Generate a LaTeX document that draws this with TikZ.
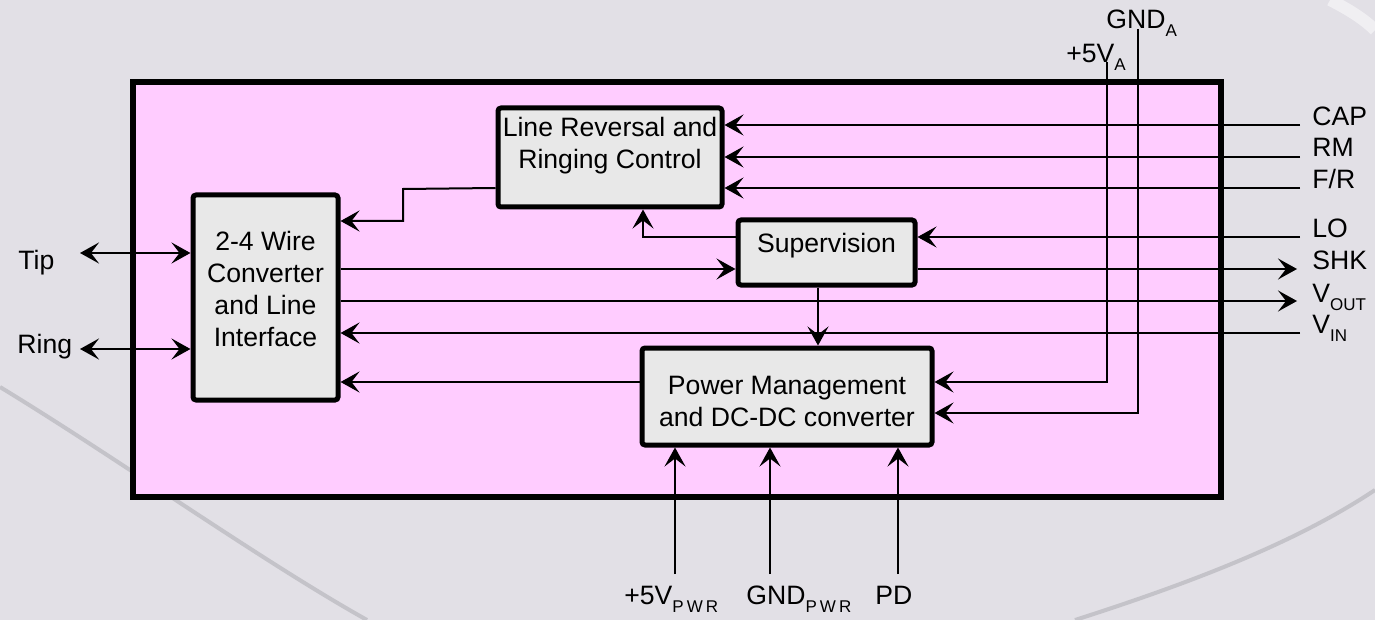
\documentclass[tikz,border=0pt]{standalone}
\usepackage{fontspec}
\setmainfont{Liberation Sans}
\usetikzlibrary{arrows.meta}
\definecolor{bggray}{HTML}{E2E0E6}
\definecolor{swirl}{HTML}{C4C3C9}
\definecolor{chippink}{HTML}{FFCCFF}
\definecolor{boxgray}{HTML}{E8E8E8}
\newcommand\lowsub[1]{\raisebox{-4pt}{\fontsize{8.5}{9}\selectfont #1}}
\newcommand\lowsubsp[1]{\raisebox{-4pt}{\fontsize{8.5}{9}\selectfont\addfontfeatures{LetterSpace=18}#1}}
\begin{document}
\begin{tikzpicture}[x=0.5pt,y=-0.5pt,
  font=\fontsize{13.3}{16}\selectfont,
  blk/.style={draw, line width=2.5pt, fill=boxgray, rounded corners=1.5pt,
    inner sep=0pt},
  txt/.style={align=center, inner sep=0pt},
  frame/.style={draw, line width=3pt, fill=chippink, inner sep=0pt},
  wire/.style={line width=1pt},
  tip/.tip={Stealth[length=9.5pt,width=10.5pt,inset=4pt]},
  arr/.style={wire, -tip},
  darr/.style={wire, tip-tip},
  lbl/.style={inner sep=0pt, anchor=base west}]

\useasboundingbox (0,0) rectangle (1375,620);
% background
\fill[bggray] (0,0) rectangle (1375,620);
\begin{scope}
\clip (0,0) rectangle (1375,620);
\draw[swirl, line width=2pt] (0,387) .. controls (120,460) and (260,560) .. (367,620);
\draw[swirl, line width=2pt] (1075,620) .. controls (1200,580) and (1300,540) .. (1375,490);
\draw[white, opacity=0.5, line width=6pt] (1330,0) .. controls (1350,10) and (1365,20) .. (1375,30);
\end{scope}

% chip outline
\node[frame, minimum width=544pt, minimum height=207.5pt] (chip) at (677,289.5) {};

% pin coordinates
\coordinate (capR) at (1300,125);
\coordinate (rmR)  at (1300,157);
\coordinate (frR)  at (1300,188);
\coordinate (loR)  at (1300,237);
\coordinate (shkR) at (1297,269);
\coordinate (voutR) at (1297,301);
\coordinate (vinR) at (1300,333);
\coordinate (tipL) at (80,253);
\coordinate (ringL) at (80,349);
\coordinate (v5aT) at (1107,62);
\coordinate (v5aB) at (1107,382);
\coordinate (gndaT) at (1138,29);
\coordinate (gndaB) at (1138,413);
\coordinate (v5pB) at (675,574);
\coordinate (gndpB) at (770,574);
\coordinate (pdB) at (898,574);

% blocks
\node[blk, minimum width=72.5pt, minimum height=102.5pt] (wire) at (265.5,297.5) {};
\node[txt] (wiretxt) at ([yshift=4.25pt]wire.center) {2-4 Wire\\Converter\\and Line\\Interface};
\node[blk, minimum width=112pt, minimum height=49.5pt] (lrc) at (610,157.5) {};
\node[txt] (lrctxt) at ([yshift=6pt]lrc.center) {Line Reversal and\\Ringing Control};
\node[blk, minimum width=88.5pt, minimum height=32.5pt] (sup) at (826.5,252.5) {};
\node[txt] (suptxt) at ([yshift=3.5pt]sup.center) {Supervision};
\node[blk, minimum width=145pt, minimum height=48.5pt] (pm) at (787,396.5) {};
\node[txt] (pmtxt) at ([yshift=-2.25pt]pm.center) {Power Management\\and DC-DC converter};

% connectors
\draw[arr] (capR) -- (capR -| lrc.east);
\draw[arr] (rmR) -- (rmR -| lrc.east);
\draw[arr] (frR) -- (frR -| lrc.east);
\draw[arr] (loR) -- (loR -| sup.east);
\draw[arr] (shkR -| sup.east) -- (shkR);
\draw[arr] (voutR -| wire.east) -- (voutR);
\draw[arr] (vinR) -- (vinR -| wire.east);
\draw[arr] (shkR -| wire.east) -- (shkR -| sup.west);
\coordinate (supl) at (sup.west |- loR);
\draw[arr] (supl) -| (643,0 |- lrc.south);
\coordinate (lrcl) at (lrc.west |- frR);
\draw[arr] (lrcl) -- (403,189) -- (403,221) -- (wire.east |- 0,221);
\draw[arr] (sup.south -| 818,0) -- (pm.north -| 818,0);
\draw[arr] (pm.west |- 0,382) -- (wire.east |- 0,382);
\draw[arr] (v5aT) -- (v5aB) -- (v5aB -| pm.east);
\draw[arr] (gndaT) -- (gndaB) -- (gndaB -| pm.east);
\draw[arr] (v5pB) -- (v5pB |- pm.south);
\draw[arr] (gndpB) -- (gndpB |- pm.south);
\draw[arr] (pdB) -- (pdB |- pm.south);
\draw[darr] (tipL) -- (tipL -| wire.west);
\draw[darr] (ringL) -- (ringL -| wire.west);

% labels
\node[lbl] (caplbl) at (1312,126) {CAP};
\node[lbl] (rmlbl) at (1312,157) {RM};
\node[lbl] (frlbl) at (1312,189) {F/R};
\node[lbl] (lolbl) at (1312,238) {LO};
\node[lbl] (shklbl) at (1312,270) {SHK};
\node[lbl] (voutlbl) at (1312,302) {V\lowsub{OUT}};
\node[lbl] (vinlbl) at (1312,333) {V\lowsub{IN}};
\node[lbl] (tiplbl) at (18,270) {Tip};
\node[lbl] (ringlbl) at (17,353) {Ring};
\node[lbl] (gndalbl) at (1106,29) {GND\lowsub{A}};
\node[lbl] (v5albl) at (1066,63) {+5V\lowsub{A}};
\node[lbl] (v5plbl) at (624,604) {+5V\lowsubsp{PWR}};
\node[lbl] (gndplbl) at (746,604) {GND\lowsubsp{PWR}};
\node[lbl] (pdlbl) at (875,604) {PD};
\end{tikzpicture}
\end{document}
